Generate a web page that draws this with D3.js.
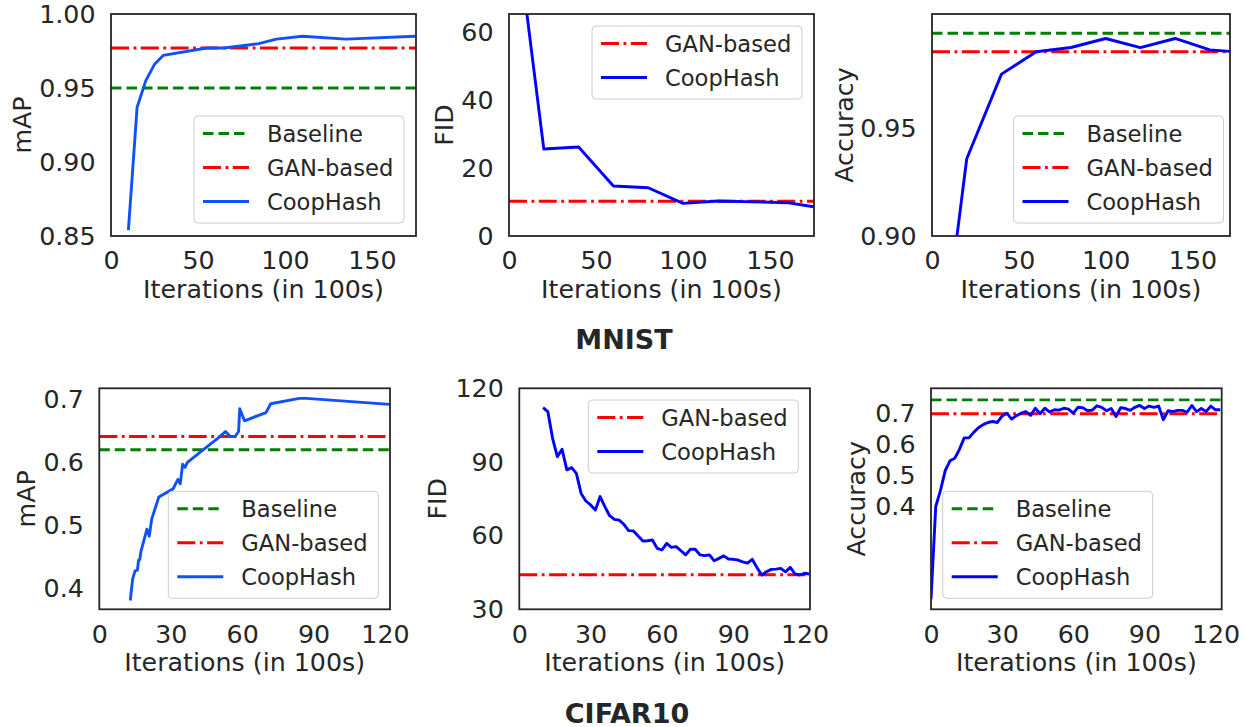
<!DOCTYPE html>
<html><head><meta charset="utf-8">
<script src="https://cdn.jsdelivr.net/npm/d3@7"></script>
<style>
body{margin:0;background:#fff}
svg{display:block}
text{font-family:"DejaVu Sans",sans-serif;fill:#262626}
</style>
</head><body>
<svg id="c" width="1246" height="727"></svg>
<script>
// ---------- DATA ----------
const seriesNames = ["Baseline", "GAN-based", "CoopHash"];
const groupTitles = ["MNIST", "CIFAR10"];
const xLabel = "Iterations (in 100s)";

// MNIST mAP
const mnistMapIter = [10, 15, 20, 25, 30, 55, 65, 85, 95, 110, 135, 175];
const mnistMapCoop = [0.854, 0.937, 0.955, 0.966, 0.972, 0.977, 0.977, 0.980, 0.983, 0.985, 0.983, 0.985];
const mnistMapBaseline = 0.95;
const mnistMapGan = 0.977;

// MNIST FID
const mnistFidIter = [10, 20, 40, 60, 80, 100, 120, 160, 175];
const mnistFidCoop = [66.5, 25.6, 26.2, 14.7, 14.2, 9.6, 10.3, 9.8, 8.6];
const mnistFidGan = 10.2;

// MNIST Accuracy
const mnistAccIter = [0, 20, 40, 60, 80, 100, 120, 140, 160, 175];
const mnistAccCoop = [0.808, 0.936, 0.9754, 0.9858, 0.9878, 0.992, 0.9877, 0.992, 0.9867, 0.9858];
const mnistAccBaseline = 0.9944;
const mnistAccGan = 0.9858;

// CIFAR10 mAP
const cifarMapIter = [13, 14, 15, 16, 16.5, 17, 17.5, 20, 21, 22, 25, 31, 33, 34, 35, 36, 37, 44, 50, 53, 55, 57, 58.5, 59, 61, 70, 72, 84, 87, 122];
const cifarMapCoop = [0.381, 0.415, 0.428, 0.429, 0.445, 0.446, 0.459, 0.494, 0.483, 0.510, 0.545, 0.558, 0.573, 0.566, 0.597, 0.592, 0.600, 0.621, 0.639, 0.649, 0.641, 0.641, 0.649, 0.685, 0.666, 0.679, 0.693, 0.7016, 0.7016, 0.692];
const cifarMapBaseline = 0.62;
const cifarMapGan = 0.641;

// CIFAR10 FID
const cifarFidIter = [10,12,14,16,18,20,22,24,26,28,30,32,34,36,38,40,42,44,46,48,50,52,54,56,58,60,62,64,66,68,70,72,74,76,78,80,82,84,86,88,90,92,94,96,98,100,102,104,106,108,110,112,114,116,118,120,122];
const cifarFidCoop = [112.3,110.7,99.8,92.3,95.3,86.9,87.8,85.5,77.3,74.2,72.6,70.5,76.0,71.9,68.2,66.7,66.4,64.7,62.1,62.0,59.9,57.9,58.0,58.3,54.9,54.2,56.9,55.3,55.6,53.9,52.2,54.5,54.5,52.2,51.9,52.2,49.8,50.8,51.8,50.5,50.4,50.1,49.4,48.8,50.4,47.0,44.0,45.3,46.3,46.4,46.7,45.3,47.1,44.4,44.0,44.7,44.4];
const cifarFidGan = 44.1;

// CIFAR10 Accuracy
const cifarAccIter = [0,2,4,6,8,10,12,14,16,18,20,22,24,26,28,30,32,34,36,38,40,42,44,46,48,50,52,54,56,58,60,62,64,66,68,70,72,74,76,78,80,82,84,86,88,90,92,94,96,98,100,102,104,106,108,110,112,114,116,118,120,122];
const cifarAccCoop = [0.10,0.40,0.452,0.516,0.548,0.556,0.585,0.622,0.622,0.640,0.655,0.665,0.672,0.675,0.672,0.693,0.702,0.683,0.694,0.702,0.707,0.695,0.718,0.700,0.718,0.706,0.713,0.712,0.718,0.715,0.702,0.721,0.720,0.710,0.712,0.726,0.721,0.710,0.717,0.691,0.720,0.717,0.711,0.721,0.727,0.717,0.725,0.721,0.725,0.681,0.710,0.707,0.711,0.711,0.705,0.727,0.707,0.717,0.707,0.725,0.713,0.713];
const cifarAccBaseline = 0.745;
const cifarAccGan = 0.70;

// tick labels
const xTicksMnist = [0, 50, 100, 150];
const xTicksCifar = [0, 30, 60, 90, 120];
const yTicksMnistMap = [0.85, 0.90, 0.95, 1.00];
const yTicksMnistFid = [0, 20, 40, 60];
const yTicksMnistAcc = [0.90, 0.95];
const yTicksCifarMap = [0.4, 0.5, 0.6, 0.7];
const yTicksCifarFid = [30, 60, 90, 120];
const yTicksCifarAcc = [0.4, 0.5, 0.6, 0.7];

// ---------- STYLE / LAYOUT ----------
const FONT = 25.3, LEG_FONT = 22.6, TITLE_FONT = 27;
const INK = "#262626";
const C_BASE = "#008000", C_GAN = "#ff0000";
const LW = 2.9;
const DASH_BASE = "10.5,5", DASH_GAN = "18,4.5,2.8,4.5";

const panels = [
  {id:1, left:111, right:416, top:14, bottom:236, xDomain:[0,175.3], yDomain:[0.85,1.0], xTicks:xTicksMnist, yTicks:yTicksMnistMap, yFmt:".2f",
   iters:mnistMapIter, values:mnistMapCoop, base:mnistMapBaseline, gan:mnistMapGan, coopColor:"#1050ff", ylabel:"mAP", ylabX:31,
   legend:{corner:"lr", gx:12, gy:13}},
  {id:2, left:509, right:814, top:14, bottom:236, xDomain:[0,175.3], yDomain:[0,65.3], xTicks:xTicksMnist, yTicks:yTicksMnistFid, yFmt:"d",
   iters:mnistFidIter, values:mnistFidCoop, base:null, gan:mnistFidGan, coopColor:"#0000ff", ylabel:"FID", ylabX:453,
   legend:{corner:"ur", gx:12, gy:12}},
  {id:3, left:932, right:1230, top:14, bottom:236, xDomain:[0,171.6], yDomain:[0.90,1.0034], xTicks:xTicksMnist, yTicks:yTicksMnistAcc, yFmt:".2f",
   iters:mnistAccIter, values:mnistAccCoop, base:mnistAccBaseline, gan:mnistAccGan, coopColor:"#0000ff", ylabel:"Accuracy", ylabX:853,
   legend:{corner:"lr", gx:6.5, gy:13}},
  {id:4, left:99.3, right:390, top:388.3, bottom:609.3, xDomain:[0,122.1], yDomain:[0.367,0.7175], xTicks:xTicksCifar, yTicks:yTicksCifarMap, yFmt:".1f",
   iters:cifarMapIter, values:cifarMapCoop, base:cifarMapBaseline, gan:cifarMapGan, coopColor:"#1050ff", ylabel:"mAP", ylabX:35,
   legend:{corner:"lr", gx:11.7, gy:11}},
  {id:5, left:519.3, right:810, top:388.3, bottom:609.3, xDomain:[0,122.3], yDomain:[30,120.2], xTicks:xTicksCifar, yTicks:yTicksCifarFid, yFmt:"d",
   iters:cifarFidIter, values:cifarFidCoop, base:null, gan:cifarFidGan, coopColor:"#0000ff", ylabel:"FID", ylabX:446,
   legend:{corner:"ur", gx:11.7, gy:11.7}},
  {id:6, left:931, right:1221.7, top:388.3, bottom:609.3, xDomain:[0,122.6], yDomain:[0.0675,0.7825], xTicks:xTicksCifar, yTicks:yTicksCifarAcc, yFmt:".1f",
   iters:cifarAccIter, values:cifarAccCoop, base:cifarAccBaseline, gan:cifarAccGan, coopColor:"#0000ff", ylabel:"Accuracy", ylabX:865,
   legend:{corner:"ll", gx:11.7, gy:11}}
];

const svg = d3.select("#c");
const defs = svg.append("defs");

function drawPanel(p) {
  const g = svg.append("g");
  const x = d3.scaleLinear().domain(p.xDomain).range([p.left, p.right]);
  const y = d3.scaleLinear().domain(p.yDomain).range([p.bottom, p.top]);
  const cid = "clip" + p.id;
  defs.append("clipPath").attr("id", cid).append("rect")
    .attr("x", p.left).attr("y", p.top).attr("width", p.right - p.left).attr("height", p.bottom - p.top);

  const lg = g.append("g").attr("clip-path", `url(#${cid})`);
  if (p.base !== null) {
    lg.append("line").attr("x1", x(p.xDomain[0])).attr("x2", x(p.xDomain[1]))
      .attr("y1", y(p.base)).attr("y2", y(p.base))
      .attr("stroke", C_BASE).attr("stroke-width", LW).attr("stroke-dasharray", DASH_BASE);
  }
  lg.append("line").attr("x1", x(p.xDomain[0])).attr("x2", x(p.xDomain[1]))
    .attr("y1", y(p.gan)).attr("y2", y(p.gan))
    .attr("stroke", C_GAN).attr("stroke-width", LW).attr("stroke-dasharray", DASH_GAN);
  const line = d3.line().x((d, i) => x(p.iters[i])).y(d => y(d));
  lg.append("path").datum(p.values).attr("d", line)
    .attr("fill", "none").attr("stroke", p.coopColor).attr("stroke-width", LW)
    .attr("stroke-linejoin", "round").attr("stroke-linecap", "butt");

  // axes
  const ax = g.append("g").attr("transform", `translate(0,${p.bottom})`)
    .call(d3.axisBottom(x).tickValues(p.xTicks).tickSize(0).tickPadding(15.5).tickFormat(d3.format("d")));
  const ay = g.append("g").attr("transform", `translate(${p.left},0)`)
    .call(d3.axisLeft(y).tickValues(p.yTicks).tickSize(0).tickPadding(15.5).tickFormat(d3.format(p.yFmt)));
  [ax, ay].forEach(a => {
    a.select(".domain").remove();
    a.attr("font-size", FONT).attr("font-family", '"DejaVu Sans",sans-serif');
    a.selectAll("text").style("fill", INK);
  });

  // spines
  g.append("rect").attr("x", p.left).attr("y", p.top)
    .attr("width", p.right - p.left).attr("height", p.bottom - p.top)
    .attr("fill", "none").attr("stroke", INK).attr("stroke-width", 1.8);

  // axis labels
  g.append("text").attr("x", (p.left + p.right) / 2).attr("y", p.bottom + 62)
    .attr("text-anchor", "middle").attr("font-size", FONT).text(xLabel);
  const cy = (p.top + p.bottom) / 2;
  g.append("text").attr("transform", `translate(${p.ylabX},${cy}) rotate(-90)`)
    .attr("text-anchor", "middle").attr("font-size", FONT).text(p.ylabel);

  // legend
  const entries = [];
  if (p.base !== null) entries.push({name: seriesNames[0], color: C_BASE, dash: DASH_BASE});
  entries.push({name: seriesNames[1], color: C_GAN, dash: DASH_GAN});
  entries.push({name: seriesNames[2], color: p.coopColor, dash: null});
  const lw = 210, lh = 39 + (entries.length - 1) * 34;
  const L = p.legend;
  const lx = L.corner === "ll" ? p.left + L.gx : p.right - L.gx - lw;
  const ly = L.corner === "ur" ? p.top + L.gy : p.bottom - L.gy - lh;
  const leg = g.append("g").attr("transform", `translate(${lx},${ly})`);
  leg.append("rect").attr("width", lw).attr("height", lh).attr("rx", 4)
    .attr("fill", "#fff").attr("fill-opacity", 0.8).attr("stroke", "#cccccc").attr("stroke-width", 1);
  entries.forEach((e, i) => {
    const ey = 17.5 + i * 34;
    const ln = leg.append("line").attr("x1", 9).attr("x2", 55).attr("y1", ey).attr("y2", ey)
      .attr("stroke", e.color).attr("stroke-width", LW);
    if (e.dash) ln.attr("stroke-dasharray", e.dash);
    leg.append("text").attr("x", 73).attr("y", ey).attr("dy", "0.36em")
      .attr("font-size", LEG_FONT).text(e.name);
  });
}

panels.forEach(drawPanel);

// group titles
svg.append("text").attr("x", 624).attr("y", 349).attr("text-anchor", "middle")
  .attr("font-size", TITLE_FONT).attr("font-weight", "bold").text(groupTitles[0]);
svg.append("text").attr("x", 627).attr("y", 722.5).attr("text-anchor", "middle")
  .attr("font-size", TITLE_FONT).attr("font-weight", "bold").text(groupTitles[1]);
</script>
</body></html>
